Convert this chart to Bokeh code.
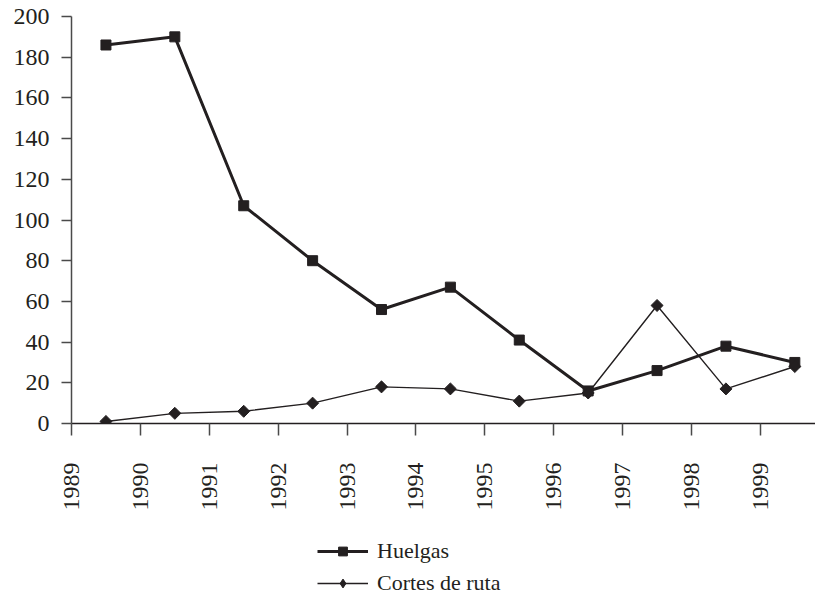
import math
from bokeh.plotting import figure
from bokeh.layouts import column
from bokeh.models import FixedTicker, Range1d, Legend, LegendItem
from bokeh.embed import file_html
from bokeh.resources import INLINE

years = ["1989", "1990", "1991", "1992", "1993", "1994", "1995", "1996", "1997", "1998", "1999"]
huelgas = [186, 190, 107, 80, 56, 67, 41, 16, 26, 38, 30]
cortes = [1, 5, 6, 10, 18, 17, 11, 15, 58, 17, 28]
y_ticks = [0, 20, 40, 60, 80, 100, 120, 140, 160, 180, 200]
series_names = ["Huelgas", "Cortes de ruta"]

INK = "#231F20"
AXC = "#4a4a4a"
FONT = "Liberation Serif"

xpos = [i + 0.5 for i in range(len(years))]

p = figure(width=815, height=530, output_backend="svg", toolbar_location=None,
           x_range=Range1d(0, 10.8), y_range=Range1d(0, 200),
           min_border_left=71, min_border_top=16, min_border_right=0, min_border_bottom=107)
p.outline_line_color = None
p.xgrid.visible = False
p.ygrid.visible = False

p.line(xpos, huelgas, line_color=INK, line_width=3)
p.scatter(xpos, huelgas, marker="square", size=10, fill_color=INK, line_color=INK)
p.line(xpos, cortes, line_color=INK, line_width=1.4)
p.scatter(xpos, cortes, marker="square", angle=math.pi / 4, size=8.5, fill_color=INK, line_color=INK)

xa = p.xaxis[0]
xa.ticker = FixedTicker(ticks=list(range(len(years))))
xa.major_label_overrides = {i: y for i, y in enumerate(years)}
xa.major_label_orientation = math.pi / 2
xa.major_label_text_font = FONT
xa.major_label_text_font_size = "24px"
xa.major_label_text_color = INK
xa.major_label_standoff = 27
xa.major_tick_out = 12
xa.major_tick_in = 0
xa.minor_tick_out = 0
xa.minor_tick_in = 0
xa.axis_line_color = INK
xa.axis_line_width = 1.5
xa.major_tick_line_color = AXC
xa.major_tick_line_width = 1.5

ya = p.yaxis[0]
ya.ticker = FixedTicker(ticks=y_ticks)
ya.major_label_orientation = "horizontal"
ya.major_label_text_font = FONT
ya.major_label_text_font_size = "24px"
ya.major_label_text_color = INK
ya.major_label_standoff = 12
ya.major_tick_out = 10
ya.major_tick_in = 0
ya.minor_tick_out = 0
ya.minor_tick_in = 0
ya.axis_line_color = AXC
ya.axis_line_width = 1.5
ya.major_tick_line_color = AXC
ya.major_tick_line_width = 1.5

# legend panel (its renderers hold points outside the visible range so only the legend shows)
q = figure(width=815, height=65, output_backend="svg", toolbar_location=None,
           x_range=Range1d(0, 1), y_range=Range1d(0, 1),
           min_border_left=0, min_border_top=0, min_border_right=0, min_border_bottom=0)
q.axis.visible = False
q.grid.visible = False
q.outline_line_color = None
hid_x = [5, 6]
hid_y = [5, 6]
r1 = q.line(hid_x, hid_y, line_color=INK, line_width=3)
s1 = q.scatter(hid_x, hid_y, marker="square", size=10, fill_color=INK, line_color=INK)
r2 = q.line(hid_x, hid_y, line_color=INK, line_width=1.4)
s2 = q.scatter(hid_x, hid_y, marker="diamond", size=16, fill_color=INK, line_color=INK)

legend = Legend(items=[LegendItem(label=series_names[0], renderers=[r1, s1]),
                       LegendItem(label=series_names[1], renderers=[r2, s2])],
                location=(246, -1), orientation="vertical")
legend.border_line_color = None
legend.background_fill_alpha = 0
legend.label_text_font = FONT
legend.label_text_font_size = "22px"
legend.label_text_color = INK
legend.glyph_width = 51
legend.glyph_height = 22
legend.label_height = 22
legend.label_standoff = 9
legend.spacing = 6
legend.padding = 0
legend.margin = 0
q.add_layout(legend, "center")

layout = column(p, q, spacing=0)
open("out.html", "w").write(file_html(layout, INLINE))
